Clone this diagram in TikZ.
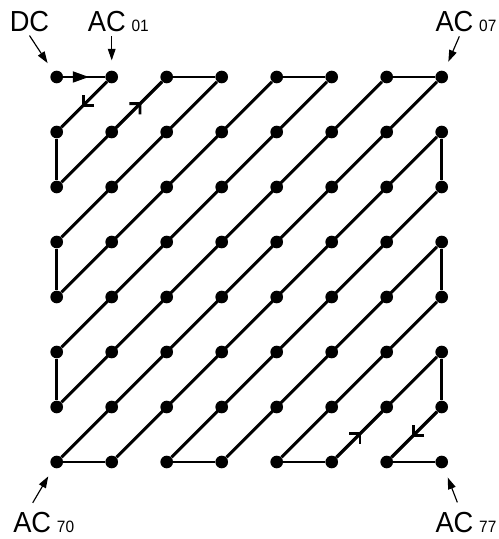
\documentclass[tikz,border=0pt]{standalone}
\usepackage{fontspec}
\setmainfont{Liberation Sans}
\newfontfamily\lblfont[FakeStretch=0.94]{Liberation Sans}
\usetikzlibrary{arrows.meta, positioning, decorations.markings}
\newcommand{\acsub}[1]{\hspace{3pt}{\fontsize{8.5}{8.5}\selectfont\raisebox{-0.5pt}{#1}}}

\begin{document}
\begin{tikzpicture}[
    dot/.style={circle, fill=black, minimum size=0.23cm, inner sep=0pt},
    link/.style={draw, line width=1.5pt},
    lbl/.style={anchor=base west, inner sep=2pt, font=\lblfont\fontsize{15}{15}\selectfont},
    pointer/.style={draw, line width=0.6pt, -{Triangle[length=6pt, width=4pt]}, shorten >=0.18cm},
    fwdhead/.style={postaction={decorate}, decoration={markings, mark=at position 0.62 with {\arrow{Triangle[length=8.5pt, width=5.5pt]}}}},
    barb/.style={postaction={decorate}, decoration={markings, mark=at position 0.55 with {\arrow{Straight Barb[angle=90:5.5pt]}}}}
]
\useasboundingbox (-1.031,1.4) rectangle (8.024,-8.4);

\foreach \r in {0,...,7}
  \foreach \c in {0,...,7}
    \node[dot] (n-\r-\c) at (\c,-\r) {};

\foreach \s in {1,...,7}
  \draw[link] (n-0-\s) -- (n-\s-0);
\foreach \s in {1,...,6}
  \draw[link] (n-\s-7) -- (n-7-\s);
\foreach \a/\b in {2/3,4/5,6/7}
  \draw[link] (n-0-\a) -- (n-0-\b);
\foreach \a/\b in {0/1,2/3,4/5,6/7}
  \draw[link] (n-7-\a) -- (n-7-\b);
\foreach \a/\b in {1/2,3/4,5/6} {
  \draw[link] (n-\a-0) -- (n-\b-0);
  \draw[link] (n-\a-7) -- (n-\b-7);
}

\draw[link, fwdhead] (n-0-0) -- (n-0-1);
\draw[link, barb] (n-0-1) -- (n-1-0);
\draw[link, barb] (n-1-1) -- (n-0-2);
\draw[link, barb] (n-7-5) -- (n-6-6);
\draw[link, barb] (n-6-7) -- (n-7-6);

\node[lbl] (dc) at (-0.93,0.836) {DC};
\node[lbl] (ac01) at (0.489,0.836) {AC\acsub{01}};
\node[lbl] (ac07) at (6.81,0.836) {AC\acsub{07}};
\node[lbl] (ac70) at (-0.867,-8.273) {AC\acsub{70}};
\node[lbl] (ac77) at (6.81,-8.273) {AC\acsub{77}};

\draw[pointer] (dc.south) -- (n-0-0);
\draw[pointer] (ac01.south -| n-0-1) -- (n-0-1);
\draw[pointer] ([xshift=-0.12cm]ac07.south) -- (n-0-7);
\draw[pointer, shorten <=0.1cm] ([xshift=-0.25cm]ac70.north) -- (n-7-0);
\draw[pointer, shorten <=0.1cm] ([xshift=-0.12cm]ac77.north) -- (n-7-7);

\end{tikzpicture}
\end{document}
